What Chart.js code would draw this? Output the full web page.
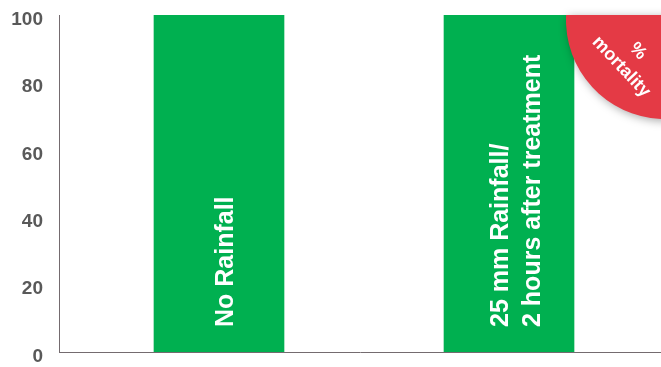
<!DOCTYPE html>
<html>
<head>
<meta charset="utf-8">
<script src="https://cdn.jsdelivr.net/npm/chart.js@4/dist/chart.umd.min.js"></script>
<style>
  html, body { margin: 0; padding: 0; background: #ffffff; }
  #wrap { width: 661px; height: 367px; position: relative; }
</style>
</head>
<body>
<div id="wrap"><canvas id="c" width="661" height="367"></canvas></div>
<script>
// ---- data ----
const categories = ['No Rainfall', ['25 mm Rainfall/', '2 hours after treatment']];
const mortality = [100, 100];
const yTicks = [0, 20, 40, 60, 80, 100];
const badgeLines = ['%', 'mortality'];

const GREEN = '#00b050';
const RED = '#e43a45';
const AXIS = '#746b6f';
const TICK = '#595959';
const FONT = '"Liberation Sans", Arial, Helvetica, sans-serif';

const barLabels = {
  id: 'barLabels',
  afterDatasetsDraw(chart) {
    const ctx = chart.ctx;
    const meta = chart.getDatasetMeta(0);
    const yBase = chart.scales.y.getPixelForValue(0);
    meta.data.forEach((bar, i) => {
      const lines = Array.isArray(categories[i]) ? categories[i] : [categories[i]];
      ctx.save();
      ctx.font = 'bold 25px ' + FONT;
      ctx.fillStyle = '#ffffff';
      ctx.textAlign = 'left';
      ctx.textBaseline = 'alphabetic';
      ctx.translate(bar.x + 14.5, yBase - 25);
      ctx.rotate(-Math.PI / 2);
      lines.forEach((ln, k) => {
        const off = (k - (lines.length - 1) / 2) * 32;
        ctx.fillText(ln, 0, off);
      });
      ctx.restore();
    });
  }
};

const badge = {
  id: 'badge',
  afterDraw(chart) {
    const ctx = chart.ctx;
    const top = chart.chartArea.top;
    const cx = 665, cy = 20, r = 99;
    const a = Math.asin((top - cy) / r);
    ctx.save();
    ctx.shadowColor = 'rgba(0,0,0,0.35)';
    ctx.shadowBlur = 10;
    ctx.shadowOffsetX = 2;
    ctx.shadowOffsetY = 2;
    ctx.beginPath();
    ctx.arc(cx, cy, r, a, Math.PI - a, false);
    ctx.closePath();
    ctx.fillStyle = RED;
    ctx.fill();
    ctx.restore();

    ctx.save();
    ctx.translate(629.5, 59);
    ctx.rotate(Math.PI / 4 + 0.03);
    ctx.fillStyle = '#ffffff';
    ctx.font = 'bold 18px ' + FONT;
    ctx.textAlign = 'center';
    ctx.textBaseline = 'middle';
    badgeLines.forEach((ln, k) => {
      ctx.fillText(ln, 0, (k - (badgeLines.length - 1) / 2) * 23);
    });
    ctx.restore();
  }
};

new Chart(document.getElementById('c'), {
  type: 'bar',
  data: {
    datasets: [{
      data: mortality.map((v, i) => ({ x: i, y: v })),
      backgroundColor: GREEN,
      borderWidth: 0,
      barThickness: 130
    }]
  },
  options: {
    responsive: false,
    animation: false,
    layout: { padding: { top: 15, bottom: 15, left: 0, right: 0 } },
    plugins: { legend: { display: false }, tooltip: { enabled: false } },
    scales: {
      x: {
        type: 'linear',
        offset: false,
        min: -0.5517,
        max: 1.5241,
        afterFit(scale) { scale.height = 0; scale.paddingLeft = 0; scale.paddingRight = 0; },
        grid: { display: false, drawTicks: false, offset: false },
        border: { display: true, color: AXIS, width: 1 },
        ticks: { display: false }
      },
      y: {
        min: 0,
        max: 100,
        afterBuildTicks(scale) { scale.ticks = yTicks.map(v => ({ value: v })); },
        afterFit(scale) { scale.width = 59; scale.paddingTop = 0; scale.paddingBottom = 0; },
        grid: { display: false, drawTicks: false },
        border: { display: true, color: AXIS, width: 1 },
        ticks: {
          padding: 16,
          labelOffset: 4.5,
          color: TICK,
          font: { family: FONT, size: 19, weight: 'bold' }
        }
      }
    }
  },
  plugins: [barLabels, badge]
});
</script>
</body>
</html>
